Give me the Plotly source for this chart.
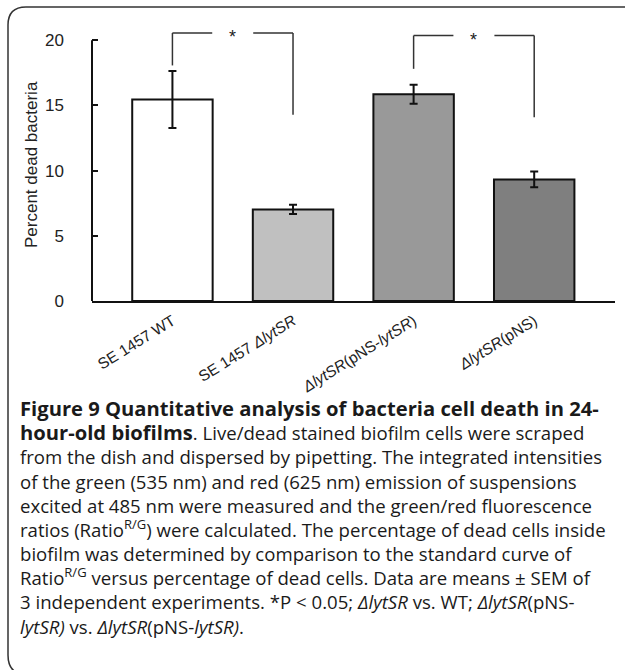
import plotly.graph_objects as go

# ---------------- data ----------------
categories = ["SE 1457 WT", "SE 1457 <i>ΔlytSR</i>", "<i>ΔlytSR</i>(pNS-<i>lytSR</i>)", "<i>ΔlytSR</i>(pNS)"]
values = [15.45, 7.02, 15.85, 9.32]
errors = [2.19, 0.35, 0.72, 0.60]
bar_colors = ["#ffffff", "#c0c0c0", "#999999", "#7f7f7f"]
y_ticks = [0, 5, 10, 15, 20]
# significance brackets: (left idx, right idx, top, left-bottom, right-bottom)
brackets = [(0, 1, 20.55, 18.06, 14.27), (2, 3, 20.35, 17.8, 14.09)]

B = '<span style="font-size:20.2px"><b>'
E = '</b></span>'
caption_lines = [
    B + "Figure 9 Quantitative analysis of bacteria cell death in 24-" + E,
    B + "hour-old biofilms" + E + ". Live/dead stained biofilm cells were scraped",
    "from the dish and dispersed by pipetting. The integrated intensities",
    "of the green (535 nm) and red (625 nm) emission of suspensions",
    "excited at 485 nm were measured and the green/red fluorescence",
    "ratios (Ratio<sup>R/G</sup>) were calculated. The percentage of dead cells inside",
    "biofilm was determined by comparison to the standard curve of",
    "Ratio<sup>R/G</sup> versus percentage of dead cells. Data are means ± SEM of",
    "3 independent experiments. *P &lt; 0.05; <i>ΔlytSR</i> vs. WT; <i>ΔlytSR</i>(pNS-",
    "<i>lytSR)</i> vs. <i>ΔlytSR</i>(pNS-<i>lytSR)</i>.",
]

# ---------------- layout geometry ----------------
W, H = 625, 670
ML, MR, MT, MB = 92, 10, 28, 369
PW, PH = W - ML - MR, H - MT - MB
YMAX = 20.93
XR = [-0.667, 3.67]


def px_x(px):
    return (px - ML) / PW


def px_y(py):
    return (H - MB - py) / PH


x = list(range(len(categories)))

fig = go.Figure()
fig.add_trace(go.Bar(
    x=x, y=values, width=0.667,
    marker=dict(color=bar_colors, line=dict(color="#111111", width=2)),
    error_y=dict(type="data", array=errors, visible=True, color="#111111", thickness=2, width=4),
    showlegend=False, hoverinfo="skip",
))

shapes = []
# y axis line from 0 to 20
shapes.append(dict(type="line", xref="paper", yref="y", x0=0, x1=0, y0=0, y1=y_ticks[-1],
                   line=dict(color="#111111", width=2)))
annotations = []
for (a, b, top, lb, rb) in brackets:
    mid = (a + b) / 2
    gap = 0.17
    line = dict(color="#333333", width=1.5)
    shapes.append(dict(type="line", xref="x", yref="y", x0=a, x1=a, y0=lb, y1=top, line=line))
    shapes.append(dict(type="line", xref="x", yref="y", x0=a, x1=mid - gap, y0=top, y1=top, line=line))
    shapes.append(dict(type="line", xref="x", yref="y", x0=mid + gap, x1=b, y0=top, y1=top, line=line))
    shapes.append(dict(type="line", xref="x", yref="y", x0=b, x1=b, y0=top, y1=rb, line=line))
    annotations.append(dict(x=mid, y=top, xref="x", yref="y", text="*", showarrow=False,
                            font=dict(family="Arial, Liberation Sans", size=18, color="#222222"),
                            yanchor="middle", yshift=-4))

# y axis title
annotations.append(dict(x=px_x(31), y=px_y(165), xref="paper", yref="paper", text="Percent dead bacteria",
                        textangle=-90, showarrow=False, xanchor="center", yanchor="middle",
                        font=dict(family="Arial, Liberation Sans", size=17, color="#222222")))

# caption (single block, line spacing 1.3em ~ 24.2 px)
annotations.append(dict(x=px_x(18), y=px_y(516.5), xref="paper", yref="paper",
                        text="<br>".join(caption_lines), showarrow=False,
                        xanchor="left", yanchor="middle", align="left",
                        font=dict(family="Open Sans", size=18.6, color="#1a1a1a")))

# frame (rounded box, partly cropped)
fx = lambda v: px_x(v)
fy = lambda v: px_y(v)
path = (f"M {fx(640)},{fy(7)} L {fx(26)},{fy(7)} Q {fx(8)},{fy(7)} {fx(8)},{fy(25)} "
        f"L {fx(8)},{fy(655)} Q {fx(8)},{fy(675)} {fx(28)},{fy(675)}")
shapes.append(dict(type="path", xref="paper", yref="paper", path=path,
                   line=dict(color="#333333", width=1.5)))

fig.update_layout(
    width=W, height=H,
    margin=dict(l=ML, r=MR, t=MT, b=MB, autoexpand=False),
    paper_bgcolor="white", plot_bgcolor="white",
    shapes=shapes, annotations=annotations,
    xaxis=dict(range=XR, tickvals=x, ticktext=categories, tickangle=-32,
               showline=True, linecolor="#111111", linewidth=2, ticks="",
               showgrid=False, zeroline=False, automargin=False, ticklabelstandoff=3,
               tickfont=dict(family="Arial, Liberation Sans", size=15.5, color="#222222")),
    yaxis=dict(range=[0, YMAX], tickvals=y_ticks, showline=False, ticks="inside",
               ticklen=6, tickwidth=2, tickcolor="#111111", showgrid=False, zeroline=False,
               automargin=False, ticklabelstandoff=27,
               tickfont=dict(family="Arial, Liberation Sans", size=17, color="#222222")),
)

fig.write_html("out.html", config={"displayModeBar": False},
               post_script="document.body.style.margin='0';")
